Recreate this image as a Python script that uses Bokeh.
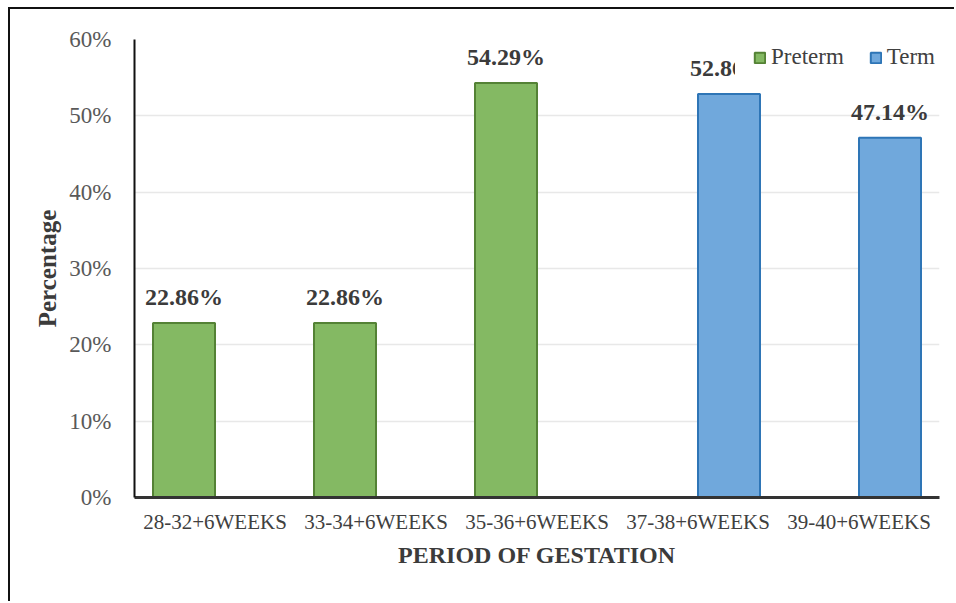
from bokeh.plotting import figure
from bokeh.models import (ColumnDataSource, FactorRange, FixedTicker, PrintfTickFormatter,
                          Legend, LegendItem, Range1d)
from bokeh.transform import dodge
from bokeh.core.properties import value
from bokeh.embed import file_html
from bokeh.resources import INLINE

# Period of gestation categories and percentage per group
categories = ["28-32+6WEEKS", "33-34+6WEEKS", "35-36+6WEEKS", "37-38+6WEEKS", "39-40+6WEEKS"]
preterm_categories = ["28-32+6WEEKS", "33-34+6WEEKS", "35-36+6WEEKS"]
preterm_values = [22.86, 22.86, 54.29]
term_categories = ["37-38+6WEEKS", "39-40+6WEEKS"]
term_values = [52.86, 47.14]
y_ticks = [0, 10, 20, 30, 40, 50, 60]

SERIF = "Liberation Serif"
BAR_W = 0.385
OFFSET = BAR_W / 2

pre_src = ColumnDataSource(dict(cat=preterm_categories, val=preterm_values,
                                lbl=[f"{v:.2f}%" for v in preterm_values]))
term_src = ColumnDataSource(dict(cat=term_categories, val=term_values,
                                 lbl=[f"{v:.2f}%" for v in term_values]))

p = figure(x_range=FactorRange(*categories, range_padding=0),
           y_range=Range1d(0, 60),
           width=946, height=594,
           output_backend="svg", toolbar_location=None,
           min_border_left=124, min_border_right=17,
           min_border_top=30, min_border_bottom=106)
p.styles = {"margin-left": "8px", "margin-top": "7px",
            "border-left": "2px solid #111111", "border-top": "2px solid #111111"}
p.outline_line_color = None
p.background_fill_color = "white"
p.border_fill_color = "white"

r_pre = p.vbar(x=dodge("cat", -OFFSET, range=p.x_range), top="val", width=BAR_W,
               source=pre_src, fill_color="#84b963", line_color="#548235", line_width=2)
r_term = p.vbar(x=dodge("cat", OFFSET, range=p.x_range), top="val", width=BAR_W,
                source=term_src, fill_color="#70a8dc", line_color="#2e75b6", line_width=2)

# value labels above the bars
for src, off in ((pre_src, -OFFSET), (term_src, OFFSET)):
    p.text(x=dodge("cat", off, range=p.x_range), y="val", text="lbl", source=src,
           text_align="center", text_baseline="alphabetic", y_offset=-26,
           text_font=value(SERIF), text_font_style="bold", text_font_size="24px",
           text_color="#3b3b3b")

# axes
p.yaxis.ticker = FixedTicker(ticks=y_ticks)
p.yaxis.formatter = PrintfTickFormatter(format="%d%%")
p.yaxis.axis_label = "Percentage"
p.yaxis.axis_label_text_font = SERIF
p.yaxis.axis_label_text_font_style = "bold"
p.yaxis.axis_label_text_font_size = "25px"
p.yaxis.axis_label_text_color = "#3b3b3b"
p.yaxis.axis_label_standoff = 5
p.yaxis.major_label_text_font = SERIF
p.yaxis.major_label_text_font_size = "23px"
p.yaxis.major_label_text_color = "#595959"
p.yaxis.major_label_standoff = 17
p.yaxis.major_tick_line_color = None
p.yaxis.minor_tick_line_color = None
p.yaxis.axis_line_color = "#111111"
p.yaxis.axis_line_width = 2

p.xaxis.axis_label = "PERIOD OF GESTATION"
p.xaxis.axis_label_text_font = SERIF
p.xaxis.axis_label_text_font_style = "bold"
p.xaxis.axis_label_text_font_size = "24px"
p.xaxis.axis_label_text_color = "#3b3b3b"
p.xaxis.axis_label_standoff = 5
p.xaxis.major_label_text_font = SERIF
p.xaxis.major_label_text_font_size = "21px"
p.xaxis.major_label_text_color = "#404040"
p.xaxis.major_label_standoff = 6
p.xaxis.major_tick_line_color = None
p.xaxis.axis_line_color = "#333333"
p.xaxis.axis_line_width = 3

p.xgrid.grid_line_color = None
p.ygrid.grid_line_color = "#e8e8e8"
p.ygrid.grid_line_width = 1.5

# legend box sits on a white background over the top-right corner of the plot
legend = Legend(items=[LegendItem(label="Preterm", renderers=[r_pre]),
                       LegendItem(label="Term", renderers=[r_term])],
                orientation="horizontal", location=(601, 409),
                label_text_font=SERIF, label_text_font_size="23px",
                label_text_color="#404040",
                glyph_width=13, glyph_height=13, label_standoff=5, spacing=25,
                padding=18, margin=0,
                background_fill_color="white", background_fill_alpha=1.0,
                border_line_color="white", border_line_alpha=0.0)
p.add_layout(legend, "center")

open("out.html", "w").write(file_html(p, INLINE))
